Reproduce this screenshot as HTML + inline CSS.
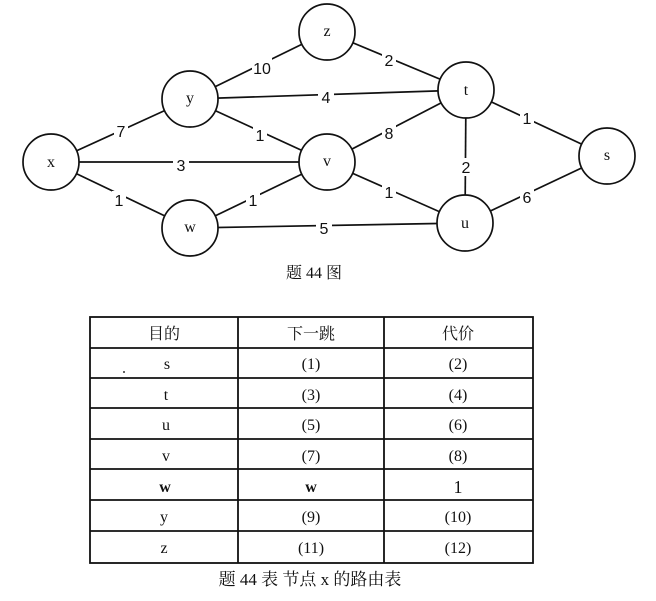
<!DOCTYPE html>
<html><head><meta charset="utf-8"><style>
body{margin:0;background:#fff;width:656px;height:596px;overflow:hidden;font-family:"Liberation Serif","Noto Serif CJK SC",serif;}
</style></head><body>
<svg width="656" height="596" xmlns="http://www.w3.org/2000/svg" font-family="Liberation Serif, Noto Serif CJK SC, serif">
<g stroke="#111" stroke-width="1.7" fill="none">
<line x1="52" y1="162" x2="190" y2="99"/>
<line x1="52" y1="162" x2="327" y2="162"/>
<line x1="52" y1="162" x2="190" y2="228"/>
<line x1="190" y1="99" x2="327" y2="32"/>
<line x1="190" y1="99" x2="466" y2="90"/>
<line x1="190" y1="99" x2="327" y2="162"/>
<line x1="190" y1="228" x2="327" y2="162"/>
<line x1="190" y1="228" x2="465" y2="223"/>
<line x1="327" y1="32" x2="466" y2="90"/>
<line x1="327" y1="162" x2="466" y2="90"/>
<line x1="327" y1="162" x2="465" y2="223"/>
<line x1="466" y1="90" x2="465" y2="223"/>
<line x1="466" y1="90" x2="607" y2="156"/>
<line x1="465" y1="223" x2="607" y2="156"/>
</g>
<g fill="#fff" font-size="16" text-anchor="middle" font-family="Liberation Sans, sans-serif">
<rect x="252" y="58" width="20" height="18" stroke="none"/><text x="262" y="74" fill="#111">10</text>
<rect x="382" y="51" width="14" height="18"/><text x="389" y="66" fill="#111">2</text>
<rect x="318" y="88" width="16" height="18"/><text x="326" y="103" fill="#111">4</text>
<rect x="114" y="122" width="14" height="18"/><text x="121" y="137" fill="#111">7</text>
<rect x="253" y="126" width="14" height="18"/><text x="260" y="141" fill="#111">1</text>
<rect x="382" y="124" width="14" height="18"/><text x="389" y="139" fill="#111">8</text>
<rect x="173" y="156" width="16" height="18"/><text x="181" y="171" fill="#111">3</text>
<rect x="112" y="191" width="14" height="18"/><text x="119" y="206" fill="#111">1</text>
<rect x="246" y="191" width="14" height="18"/><text x="253" y="206" fill="#111">1</text>
<rect x="382" y="183" width="14" height="18"/><text x="389" y="198" fill="#111">1</text>
<rect x="316" y="219" width="16" height="18"/><text x="324" y="234" fill="#111">5</text>
<rect x="459" y="158" width="14" height="18"/><text x="466" y="173" fill="#111">2</text>
<rect x="520" y="109" width="14" height="18"/><text x="527" y="124" fill="#111">1</text>
<rect x="520" y="188" width="14" height="18"/><text x="527" y="203" fill="#111">6</text>
</g>
<g stroke="#111" stroke-width="1.7" fill="#fff">
<circle cx="51" cy="162" r="28"/><circle cx="190" cy="99" r="28"/><circle cx="327" cy="32" r="28"/>
<circle cx="327" cy="162" r="28"/><circle cx="190" cy="228" r="28"/><circle cx="466" cy="90" r="28"/>
<circle cx="465" cy="223" r="28"/><circle cx="607" cy="156" r="28"/>
</g>
<g font-size="16" text-anchor="middle" fill="#111">
<text x="51" y="167">x</text><text x="190" y="103">y</text><text x="327" y="36">z</text>
<text x="327" y="166">v</text><text x="190" y="232">w</text><text x="466" y="95">t</text>
<text x="465" y="228">u</text><text x="607" y="160">s</text>
<text x="314" y="278" font-size="16">题 44 图</text>
</g>
<g stroke="#111" stroke-width="1.8">
<rect x="90" y="317" width="443" height="246" fill="none"/>
<line x1="238" y1="317" x2="238" y2="563"/>
<line x1="384" y1="317" x2="384" y2="563"/>
<line x1="90" y1="348" x2="533" y2="348"/>
<line x1="90" y1="378" x2="533" y2="378"/>
<line x1="90" y1="408" x2="533" y2="408"/>
<line x1="90" y1="439" x2="533" y2="439"/>
<line x1="90" y1="469" x2="533" y2="469"/>
<line x1="90" y1="500" x2="533" y2="500"/>
<line x1="90" y1="531" x2="533" y2="531"/>
</g>
<g font-size="16" text-anchor="middle" fill="#111">
<text x="164" y="339">目的</text><text x="311" y="339">下一跳</text><text x="458" y="339">代价</text>
<text x="167" y="369">s</text><text x="311" y="369">(1)</text><text x="458" y="369">(2)</text>
<text x="166" y="400">t</text><text x="311" y="400">(3)</text><text x="458" y="400">(4)</text>
<text x="166" y="430">u</text><text x="311" y="430">(5)</text><text x="458" y="430">(6)</text>
<text x="166" y="461">v</text><text x="311" y="461">(7)</text><text x="458" y="461">(8)</text>
<text x="165" y="492" font-weight="bold">w</text><text x="311" y="492" font-weight="bold">w</text><text x="458" y="493" font-size="18">1</text>
<text x="164" y="522">y</text><text x="311" y="522">(9)</text><text x="458" y="522">(10)</text>
<text x="164" y="553">z</text><text x="311" y="553">(11)</text><text x="458" y="553">(12)</text>
<text x="310" y="585" font-size="17">题 44 表  节点 x 的路由表</text>
</g>
<circle cx="124" cy="372" r="1" fill="#333"/>
</svg>
</body></html>
